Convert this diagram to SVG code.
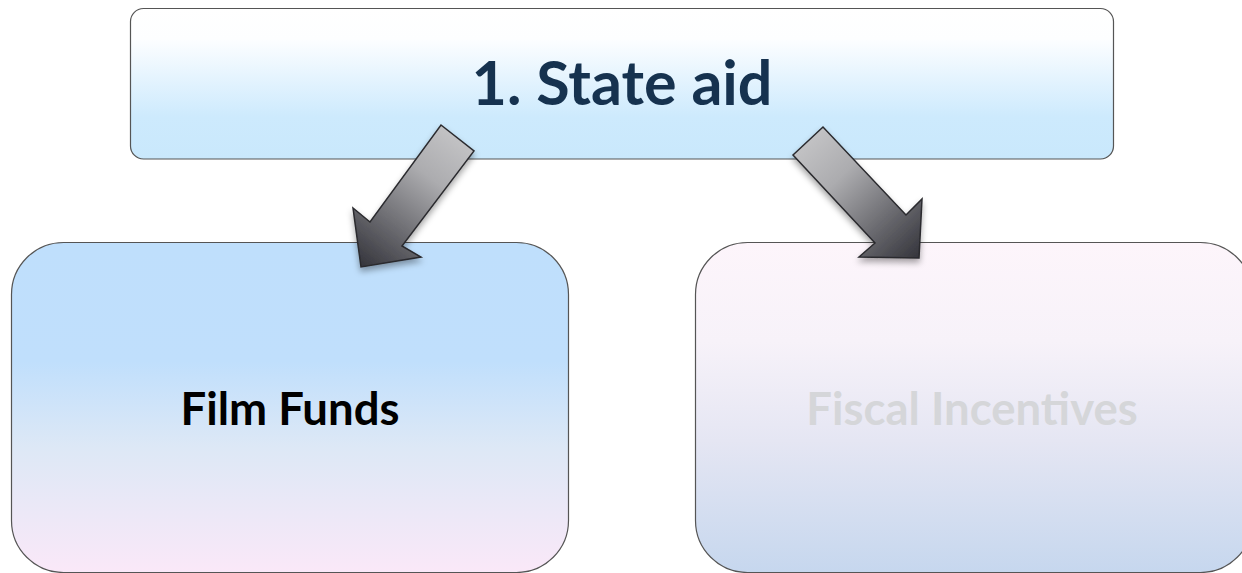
<svg xmlns="http://www.w3.org/2000/svg" width="1242" height="573" viewBox="0 0 1242 573">
  <defs>
    <linearGradient id="gTop" x1="0" y1="0" x2="0" y2="1">
      <stop offset="0" stop-color="#ffffff"/>
      <stop offset="0.2" stop-color="#fdfeff"/>
      <stop offset="0.72" stop-color="#cdeafd"/>
      <stop offset="1" stop-color="#c9e8fc"/>
    </linearGradient>
    <linearGradient id="gLeft" x1="0" y1="0" x2="0" y2="1">
      <stop offset="0" stop-color="#bfdffc"/>
      <stop offset="0.36" stop-color="#c0dffc"/>
      <stop offset="0.62" stop-color="#dde8f6"/>
      <stop offset="1" stop-color="#fae8f8"/>
    </linearGradient>
    <linearGradient id="gRight" x1="0" y1="0" x2="0" y2="1">
      <stop offset="0" stop-color="#fdf5fb"/>
      <stop offset="0.3" stop-color="#f7f2f9"/>
      <stop offset="0.6" stop-color="#e5e6f3"/>
      <stop offset="1" stop-color="#c6d7ee"/>
    </linearGradient>
    <linearGradient id="gArrowL" gradientUnits="userSpaceOnUse" x1="458" y1="138" x2="361" y2="267">
      <stop offset="0" stop-color="#c2c2c4"/>
      <stop offset="0.3" stop-color="#acacaf"/>
      <stop offset="1" stop-color="#34343b"/>
    </linearGradient>
    <linearGradient id="gArrowR" gradientUnits="userSpaceOnUse" x1="808" y1="141" x2="919" y2="258">
      <stop offset="0" stop-color="#c2c2c4"/>
      <stop offset="0.3" stop-color="#acacaf"/>
      <stop offset="1" stop-color="#34343b"/>
    </linearGradient>
    <filter id="shadow" x="-20%" y="-20%" width="140%" height="140%">
      <feDropShadow dx="0" dy="4" stdDeviation="3" flood-color="#000" flood-opacity="0.35"/>
    </filter>
  </defs>
  <style>
    .box { stroke: #555; stroke-width: 1.2; }
    .arrow { stroke: #2a2a2e; stroke-width: 1.5; stroke-linejoin: miter; filter: url(#shadow); }
    .t { font-family: Lato, "Liberation Sans", sans-serif; font-weight: bold; text-anchor: middle; }
  </style>
  <rect width="1242" height="573" fill="#ffffff"/>
  <g id="node-state-aid">
    <rect class="box" x="130.5" y="8.5" width="983" height="150.5" rx="13" ry="13" fill="url(#gTop)" stroke="#3a3a3a"/>
    <text class="t" x="622" y="105" font-size="61" fill="#16324f">1. State aid</text>
  </g>
  <g id="node-film-funds">
    <rect class="box" x="11.5" y="242.5" width="557" height="330" rx="52" ry="52" fill="url(#gLeft)"/>
    <text class="t" x="290" y="425" font-size="45.5" fill="#000000">Film Funds</text>
  </g>
  <g id="node-fiscal-incentives">
    <rect class="box" x="695.5" y="242.5" width="557" height="330" rx="52" ry="52" fill="url(#gRight)"/>
    <text class="t" x="972" y="425" font-size="45.5" fill="#d5d6d9">Fiscal Incentives</text>
  </g>
  <g id="connectors">
    <polygon class="arrow" fill="url(#gArrowL)" points="441,125 474,151 402,246 421,257 361,267 353,208 370,222"/>
    <polygon class="arrow" fill="url(#gArrowR)" points="823,127 793,155 875,243 859,257 919,258 922,199 906,215"/>
  </g>
</svg>
